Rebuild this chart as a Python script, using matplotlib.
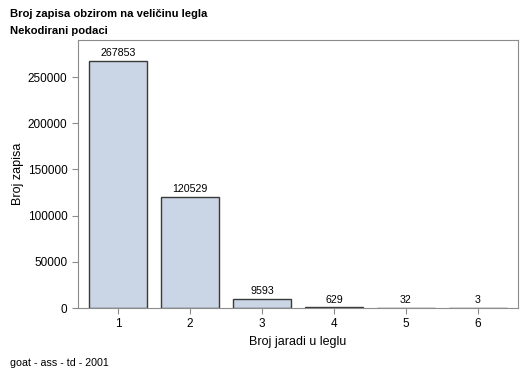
import matplotlib
matplotlib.use("Agg")
import matplotlib.pyplot as plt

plt.rcParams["font.family"] = ["Liberation Sans", "DejaVu Sans"]

litter_size = [1, 2, 3, 4, 5, 6]
record_counts = [267853, 120529, 9593, 629, 32, 3]
y_ticks = [0, 50000, 100000, 150000, 200000, 250000]

FRAME = "#8c8c8c"

fig = plt.figure(figsize=(5.29, 3.78), dpi=100)
ax = fig.add_axes([0.1474, 0.185, 0.8318, 0.709])

bars = ax.bar(litter_size, record_counts, width=0.8, color="#cad5e5",
              edgecolor="#3a3a3a", linewidth=1.0)
for x, v in zip(litter_size, record_counts):
    ax.text(x, v + 3000, str(v), ha="center", va="bottom", fontsize=7.7)

ax.set_xlim(0.444, 6.556)
ax.set_ylim(0, 290000)
ax.set_xticks(litter_size)
ax.set_yticks(y_ticks)
ax.tick_params(labelsize=8.5, color=FRAME, length=4)
for s in ax.spines.values():
    s.set_color(FRAME)
ax.set_xlabel("Broj jaradi u leglu", fontsize=9, labelpad=4)
ax.set_ylabel("Broj zapisa", fontsize=9, labelpad=3)

fig.text(10 / 529, 1 - 14 / 378, "Broj zapisa obzirom na veličinu legla",
         fontsize=8.1, fontweight="bold", va="center")
fig.text(10 / 529, 1 - 31 / 378, "Nekodirani podaci",
         fontsize=8.1, fontweight="bold", va="center")
fig.text(10 / 529, 1 - 363 / 378, "goat - ass - td - 2001",
         fontsize=7.7, va="center")

fig.savefig("out.png", dpi=100, facecolor="white")
